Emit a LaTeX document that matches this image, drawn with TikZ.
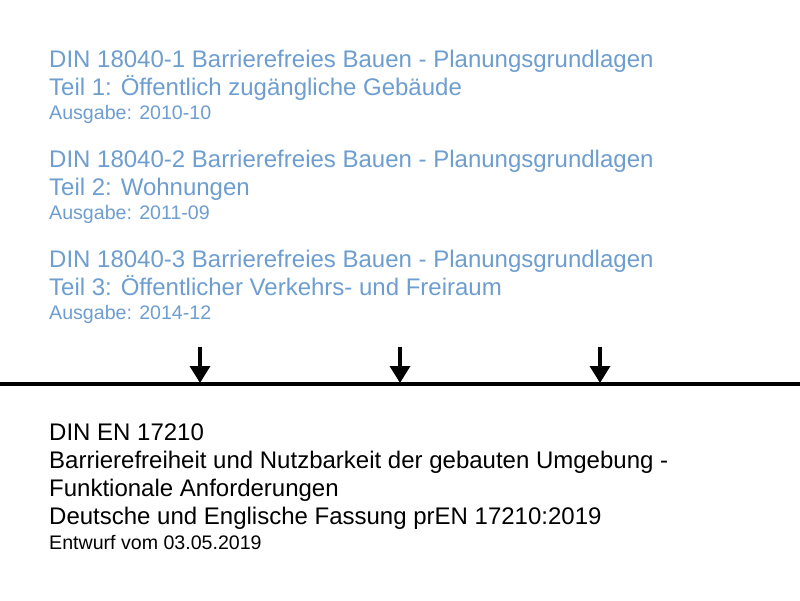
\documentclass[tikz,border=0pt]{standalone}
\usepackage{fontspec}
\setmainfont{Liberation Sans}
\usetikzlibrary{arrows.meta}
\definecolor{dinblue}{RGB}{110,158,207}
\begin{document}
\begin{tikzpicture}[x=1pt,y=-1pt,
  big/.style={anchor=base west,inner sep=0pt,font=\fontsize{24}{28}\selectfont},
  small/.style={anchor=base west,inner sep=0pt,font=\fontsize{19.6}{24}\selectfont},
  marker/.style={line width=3.5pt,-{Triangle[width=20pt,length=17pt]}}]
\useasboundingbox (0,0) rectangle (800,600);
\fill[white] (0,0) rectangle (800,600);
\begin{scope}[dinblue]
\node[big] (a1) at (49,67) {DIN 18040-1 Barrierefreies Bauen - Planungsgrundlagen};
\node[big] (a2) at (49,95) {Teil 1: Öffentlich zugängliche Gebäude};
\node[small] (a3) at (49,119) {Ausgabe: 2010-10};
\node[big] (b1) at (49,167) {DIN 18040-2 Barrierefreies Bauen - Planungsgrundlagen};
\node[big] (b2) at (49,195) {Teil 2: Wohnungen};
\node[small] (b3) at (49,219) {Ausgabe: 2011-09};
\node[big] (c1) at (49,267) {DIN 18040-3 Barrierefreies Bauen - Planungsgrundlagen};
\node[big] (c2) at (49,295) {Teil 3: Öffentlicher Verkehrs- und Freiraum};
\node[small] (c3) at (49,319) {Ausgabe: 2014-12};
\end{scope}
\coordinate (L) at (0,384);
\coordinate (R) at (800,384);
\draw[line width=4.5pt] (L) -- (R);
\foreach \x/\n in {200/p1,400/p2,600/p3}{
  \coordinate (\n s) at (\x,347);
  \coordinate (\n e) at (\x,383);
  \draw[marker] (\n s) -- (\n e);
}
\node[big] (d1) at (49,440) {DIN EN 17210};
\node[big] (d2) at (49,468) {Barrierefreiheit und Nutzbarkeit der gebauten Umgebung -};
\node[big] (d3) at (49,496) {Funktionale Anforderungen};
\node[big] (d4) at (49,524) {Deutsche und Englische Fassung prEN 17210:2019};
\node[small] (d5) at (49,549) {Entwurf vom 03.05.2019};
\end{tikzpicture}
\end{document}
